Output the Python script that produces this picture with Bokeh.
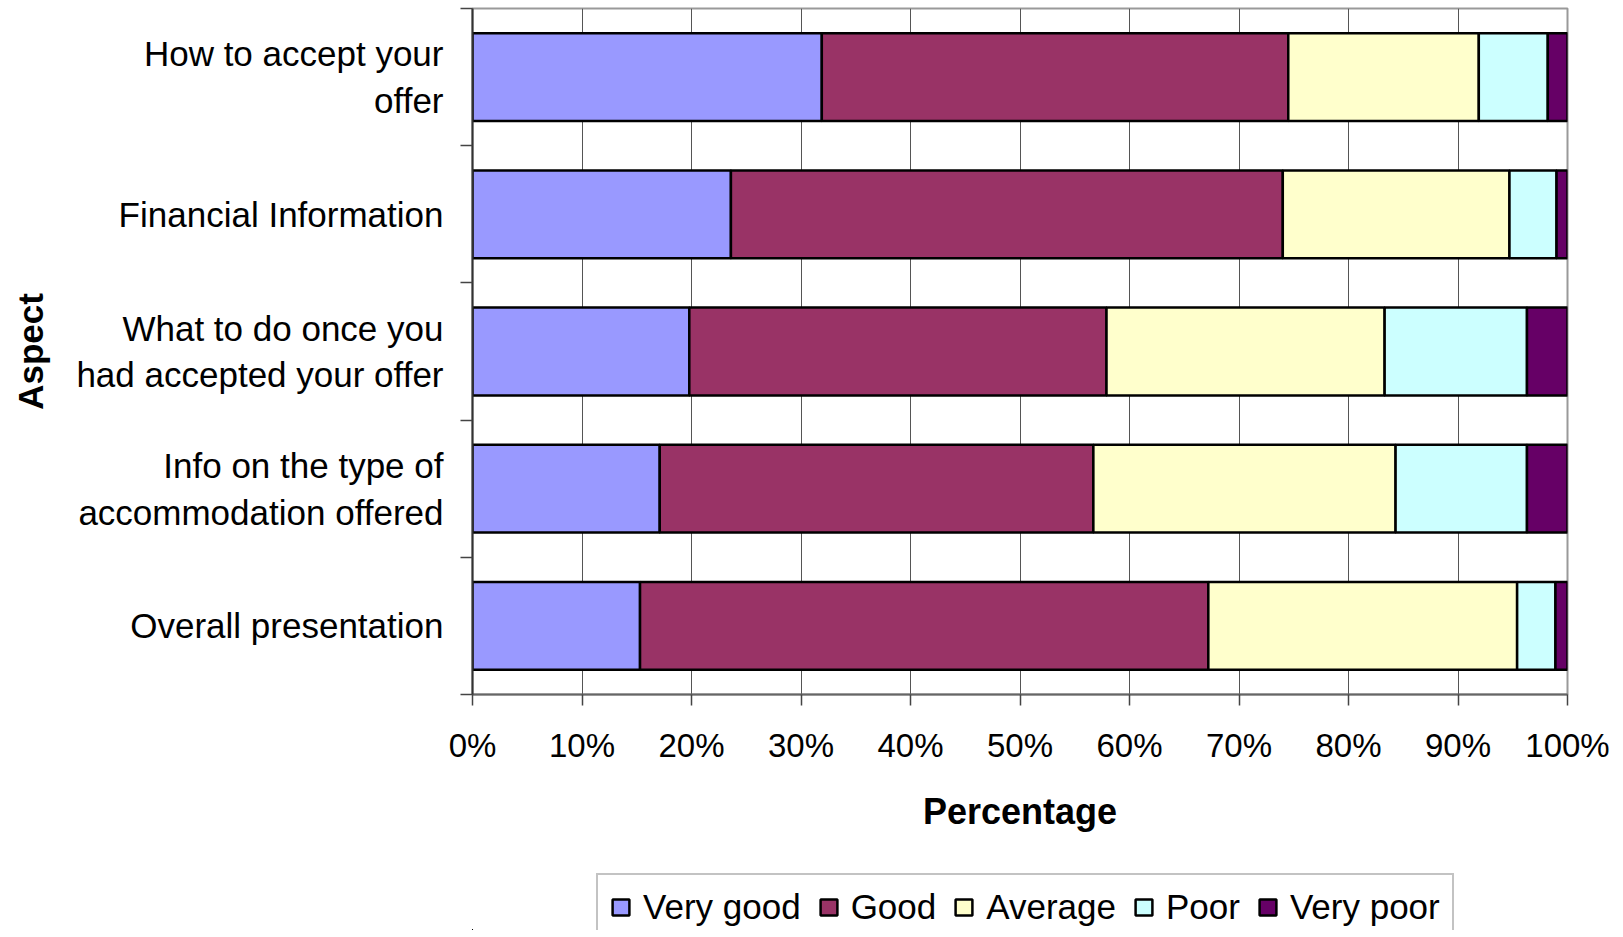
from bokeh.plotting import figure
from bokeh.layouts import column
from bokeh.models import (Range1d, FixedTicker,
                          PrintfTickFormatter, Legend, LegendItem, ColumnDataSource)
from bokeh.embed import file_html
from bokeh.resources import INLINE

# ---------------- data ----------------
aspects = [
    "How to accept your\noffer",
    "Financial Information",
    "What to do once you\nhad accepted your offer",
    "Info on the type of\naccommodation offered",
    "Overall presentation",
]
ratings = ["Very good", "Good", "Average", "Poor", "Very poor"]
very_good = [31.9, 23.6, 19.8, 17.1, 15.3]
good = [42.6, 50.4, 38.1, 39.6, 51.9]
average = [17.4, 20.7, 25.4, 27.6, 28.2]
poor = [6.3, 4.3, 13.0, 12.0, 3.5]
very_poor = [1.8, 1.0, 3.7, 3.7, 1.1]
colors = ["#9999FF", "#993366", "#FFFFCC", "#CCFFFF", "#660066"]
x_ticks = [0, 10, 20, 30, 40, 50, 60, 70, 80, 90, 100]

FONT = "Liberation Sans"
n = len(aspects)
# first category at the top
ypos = [n - i - 0.5 for i in range(n)]
bounds = list(range(n + 1))

source = ColumnDataSource(dict(
    y=ypos,
    **{"Very good": very_good, "Good": good, "Average": average,
       "Poor": poor, "Very poor": very_poor}))

p = figure(width=1615, height=850,
           y_range=Range1d(0, n),
           x_range=Range1d(0, 100),
           output_backend="svg", toolbar_location=None,
           min_border_left=472, min_border_right=48,
           min_border_top=8, min_border_bottom=156,
           background_fill_color="white", border_fill_color="white")

renderers = p.hbar_stack(ratings, y="y", height=0.64, color=colors,
                         line_color="black", line_width=2.5, source=source)

# x axis
xa = p.xaxis[0]
xa.ticker = FixedTicker(ticks=x_ticks)
xa.formatter = PrintfTickFormatter(format="%d%%")
xa.axis_label = "Percentage"
xa.axis_label_text_font = FONT
xa.axis_label_text_font_style = "bold"
xa.axis_label_text_font_size = "36px"
xa.axis_label_text_color = "black"
xa.axis_label_standoff = 24
xa.major_label_text_font = FONT
xa.major_label_text_font_size = "33px"
xa.major_label_text_color = "black"
xa.major_label_standoff = 21
xa.major_tick_out = 11
xa.major_tick_in = 0
xa.minor_tick_line_color = None
xa.major_tick_line_color = "#444444"
xa.major_tick_line_width = 1.5
xa.axis_line_color = "#666666"
xa.axis_line_width = 2

# y axis: labels at category centres, ticks (minor) at category boundaries
ya = p.yaxis[0]
ya.ticker = FixedTicker(ticks=ypos, minor_ticks=bounds)
ya.major_label_overrides = {y: a for y, a in zip(ypos, aspects)}
ya.major_tick_line_color = None
ya.major_tick_out = 0
ya.major_tick_in = 0
ya.minor_tick_line_color = "#444444"
ya.minor_tick_line_width = 1.5
ya.minor_tick_out = 12
ya.minor_tick_in = 0
ya.axis_line_color = "#333333"
ya.axis_line_width = 2
ya.major_label_standoff = 17
ya.major_label_text_font = FONT
ya.major_label_text_font_size = "35px"
ya.major_label_text_color = "black"
ya.axis_label = "Aspect"
ya.axis_label_text_font = FONT
ya.axis_label_text_font_style = "bold"
ya.axis_label_text_font_size = "35px"
ya.axis_label_text_color = "black"
ya.axis_label_standoff = 23

p.xgrid.ticker = FixedTicker(ticks=x_ticks)
p.xgrid.grid_line_color = "#555555"
p.xgrid.grid_line_width = 1
p.ygrid.grid_line_color = None

p.outline_line_color = "#999999"
p.outline_line_width = 2

# ---- legend strip below the chart (series swatches from the same data, kept out of view) ----
p2 = figure(width=1615, height=80,
            x_range=Range1d(200, 300), y_range=Range1d(100, 105),
            output_backend="svg", toolbar_location=None,
            x_axis_location=None, y_axis_location=None,
            min_border_left=0, min_border_right=0, min_border_top=0, min_border_bottom=0,
            background_fill_color="white", border_fill_color="white")
p2.outline_line_color = None
p2.xgrid.visible = False
p2.ygrid.visible = False
leg_renderers = p2.hbar_stack(ratings, y="y", height=0.64, color=colors,
                              line_color="black", line_width=2.5, source=source)

# location = bottom-left corner of the legend box, relative to the strip's frame
legend = Legend(items=[LegendItem(label=r, renderers=[rend]) for r, rend in zip(ratings, leg_renderers)],
                orientation="horizontal", location=(124, -11),
                label_text_font=FONT, label_text_font_size="35px",
                label_text_color="black",
                glyph_width=21, glyph_height=20, label_standoff=12, spacing=17,
                padding=12, margin=0,
                border_line_color="#888888", border_line_width=2,
                background_fill_color="white")
p2.add_layout(legend)

layout = column(p, p2, spacing=0)
open("out.html", "w").write(file_html(layout, INLINE))
